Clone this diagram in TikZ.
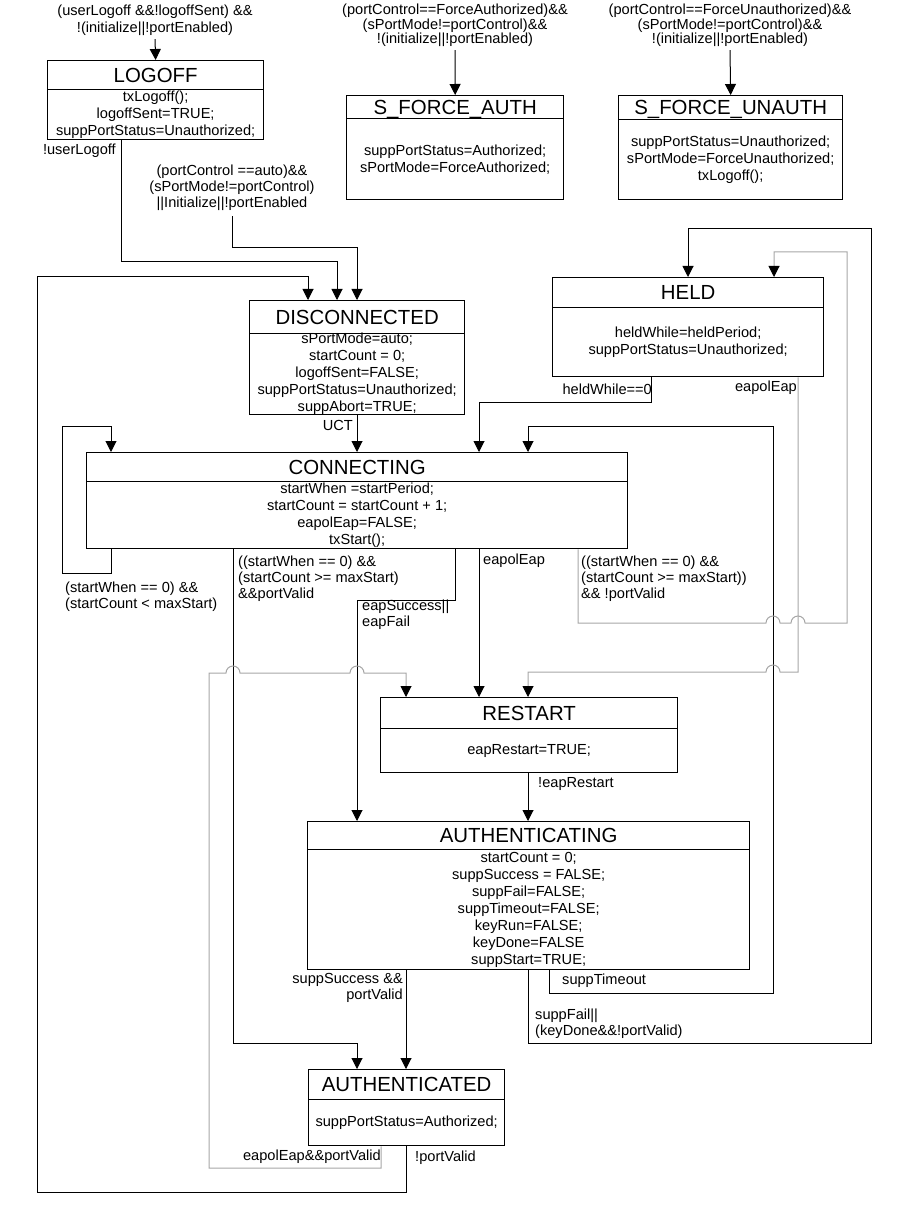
\documentclass[tikz,border=0pt]{standalone}
\usepackage{fontspec}
\setmainfont{Liberation Sans}
\usetikzlibrary{arrows.meta}
\newcommand{\bodyfont}{\fontsize{14.6}{17}\selectfont}
\newcommand{\titlefont}{\fontsize{20.4}{24}\selectfont}
\newcommand{\lblfont}{\fontsize{14.6}{16}\selectfont}
\tikzset{stitle/.style={draw, line width=1.3pt, inner sep=0pt, anchor=north west, text height=14.6pt, text depth=0pt, font=\titlefont},
  sbody/.style={draw, line width=1.3pt, inner xsep=0pt, inner ysep=-4pt, anchor=north west, align=center, font=\bodyfont},
  lbl/.style={inner sep=0pt, font=\lblfont},
  tr/.style={line width=1pt, -{Triangle[length=11pt,width=11pt]}},
  trg/.style={line width=1pt, draw=black!35, -{Triangle[length=11pt,width=11pt,color=black]}}}

\begin{document}
\begin{tikzpicture}[x=1pt, y=-1pt]
    \useasboundingbox (0,0) rectangle (904,1214);
    % states
    \node[stitle, minimum width=216pt, minimum height=29pt] (logoff) at (47,60) {LOGOFF};
    \node[sbody, minimum width=216pt, minimum height=50pt] (logoff-b) at (47,89) {txLogoff();\\logoffSent=TRUE;\\suppPortStatus=Unauthorized;};
    \node[stitle, minimum width=217pt, minimum height=23pt] (fauth) at (346,95) {S\_FORCE\_AUTH};
    \node[sbody, minimum width=217pt, minimum height=81pt] (fauth-b) at (346,118) {suppPortStatus=Authorized;\\sPortMode=ForceAuthorized;};
    \node[stitle, minimum width=224pt, minimum height=24pt] (funauth) at (618,95) {S\_FORCE\_UNAUTH};
    \node[sbody, minimum width=224pt, minimum height=80pt] (funauth-b) at (618,119) {suppPortStatus=Unauthorized;\\sPortMode=ForceUnauthorized;\\txLogoff();};
    \node[stitle, minimum width=271pt, minimum height=30pt] (held) at (552,277) {HELD};
    \node[sbody, minimum width=271pt, minimum height=69pt] (held-b) at (552,307) {heldWhile=heldPeriod;\\suppPortStatus=Unauthorized;};
    \node[stitle, minimum width=215pt, minimum height=33pt] (disc) at (249,300) {DISCONNECTED};
    \node[sbody, minimum width=215pt, minimum height=81pt] (disc-b) at (249,333) {sPortMode=auto;\\startCount = 0;\\logoffSent=FALSE;\\suppPortStatus=Unauthorized;\\suppAbort=TRUE;};
    \node[stitle, minimum width=541pt, minimum height=29pt] (conn) at (86,452) {CONNECTING};
    \node[sbody, minimum width=541pt, minimum height=67pt] (conn-b) at (86,481) {startWhen =startPeriod;\\startCount = startCount + 1;\\eapolEap=FALSE;\\txStart();};
    \node[stitle, minimum width=297pt, minimum height=31pt] (restart) at (380,697) {RESTART};
    \node[sbody, minimum width=297pt, minimum height=44pt] (restart-b) at (380,728) {eapRestart=TRUE;};
    \node[stitle, minimum width=442pt, minimum height=28pt] (authing) at (307,821) {AUTHENTICATING};
    \node[sbody, minimum width=442pt, minimum height=120pt] (authing-b) at (307,849) {startCount = 0;\\suppSuccess = FALSE;\\suppFail=FALSE;\\suppTimeout=FALSE;\\keyRun=FALSE;\\keyDone=FALSE\\suppStart=TRUE;};
    \node[stitle, minimum width=196pt, minimum height=30pt] (authed) at (308,1069) {AUTHENTICATED};
    \node[sbody, minimum width=196pt, minimum height=46pt] (authed-b) at (308,1099) {suppPortStatus=Authorized;};
    % conditions
    \node[lbl, align=center, font=\fontsize{14.6}{17}\selectfont] (l-logoff) at (155,20.5) {(userLogoff \&\&!logoffSent) \&\&\\!(initialize||!portEnabled)};
    \node[lbl, align=center, font=\fontsize{14.6}{13.5}\selectfont] (l-fauth) at (455,25.5) {(portControl==ForceAuthorized)\&\&\\(sPortMode!=portControl)\&\&\\!(initialize||!portEnabled)};
    \node[lbl, align=center, font=\fontsize{14.6}{13.5}\selectfont] (l-funauth) at (730,25.5) {(portControl==ForceUnauthorized)\&\&\\(sPortMode!=portControl)\&\&\\!(initialize||!portEnabled)};
    \node[lbl, align=center] (l-pcauto) at (232,188) {(portControl ==auto)\&\&\\(sPortMode!=portControl)\\||Initialize||!portEnabled};
    \node[lbl, anchor=east] (l-userlogoff) at (116,151) {!userLogoff};
    \node[lbl, anchor=east] (l-uct) at (353,425) {UCT};
    \node[lbl, anchor=east] (l-heldwhile) at (652,389) {heldWhile==0};
    \node[lbl, anchor=east] (l-eapoleap-h) at (797,388) {eapolEap};
    \node[lbl, anchor=west, align=left] (l-loop) at (65,596.5) {(startWhen == 0) \&\&\\(startCount < maxStart)};
    \node[lbl, anchor=west, align=left] (l-valid) at (238,579) {((startWhen == 0) \&\&\\(startCount >= maxStart)\\\&\&portValid};
    \node[lbl, anchor=west, align=left] (l-eapsucc) at (362,614.5) {eapSuccess||\\eapFail};
    \node[lbl, anchor=west] (l-eapoleap-c) at (483,561) {eapolEap};
    \node[lbl, anchor=west, align=left] (l-notvalid) at (581,579) {((startWhen == 0) \&\&\\(startCount >= maxStart))\\\&\& !portValid};
    \node[lbl, anchor=west] (l-restart) at (538,784) {!eapRestart};
    \node[lbl, anchor=east, align=right] (l-succ) at (403,988) {suppSuccess \&\&\\portValid};
    \node[lbl, anchor=west] (l-timeout) at (562,981) {suppTimeout};
    \node[lbl, anchor=west, align=left] (l-fail) at (535,1024) {suppFail||\\(keyDone\&\&!portValid)};
    \node[lbl, anchor=east] (l-eapvalid) at (381,1157) {eapolEap\&\&portValid};
    \node[lbl, anchor=west] (l-notportvalid) at (415,1158) {!portValid};
    % global entries
    \draw[tr] ([yshift=-3pt]l-logoff.south) -- (logoff.north);
    \draw[tr] ([yshift=-3pt]l-fauth.south) -- (fauth.north);
    \draw[tr] ([yshift=-3pt]l-funauth.south) -- (funauth.north);
    \draw[tr] ([yshift=-5pt]l-pcauto.south) |- (357,248) -- (357,0 |- disc.north);
    % transitions
    \draw[tr] (121,0 |- logoff-b.south) |- (337,262) -- (337,0 |- disc.north);
    \draw[tr] (357,0 |- disc-b.south) -- (357,0 |- conn.north);
    \draw[tr] (111,0 |- conn-b.south) |- (62,573) |- (111,426) -- (111,0 |- conn.north);
    \draw[tr] (651,0 |- held-b.south) |- (479,402) -- (479,0 |- conn.north);
    \draw[tr] (233,0 |- conn-b.south) |- (357,1043) -- (357,0 |- authed.north);
    \draw[tr] (455,0 |- conn-b.south) |- (357,600) -- (357,0 |- authing.north);
    \draw[tr] (479,0 |- conn-b.south) -- (479,0 |- restart.north);
    \draw[tr] (528,0 |- restart-b.south) -- (528,0 |- authing.north);
    \draw[tr] (549,0 |- authing-b.south) |- (773,993) |- (528,426) -- (528,0 |- conn.north);
    \draw[tr] (528,0 |- authing-b.south) |- (871,1043) |- (688,229) -- (688,0 |- held.north);
    \draw[tr] (406,0 |- authing-b.south) -- (406,0 |- authed.north);
    \draw[tr] (406,0 |- authed-b.south) |- (37,1192) |- (308,277) -- (308,0 |- disc.north);
    % grey ones, with hops
    \draw[trg] (578,0 |- conn-b.south) |- (766,623) arc[start angle=180, end angle=360, radius=7] -- (791,623) arc[start angle=180, end angle=360, radius=7] -- (847,623) |- (774,252) -- (774,0 |- held.north);
    \draw[trg] (798,0 |- held-b.south) |- (780,672) arc[start angle=0, end angle=-180, radius=7] -| (528,0 |- restart.north);
    \draw[trg] (381,0 |- authed-b.south) |- (209,1168) |- (226,673) arc[start angle=180, end angle=360, radius=7] -- (350,673) arc[start angle=180, end angle=360, radius=7] -| (406,0 |- restart.north);
\end{tikzpicture}
\end{document}
